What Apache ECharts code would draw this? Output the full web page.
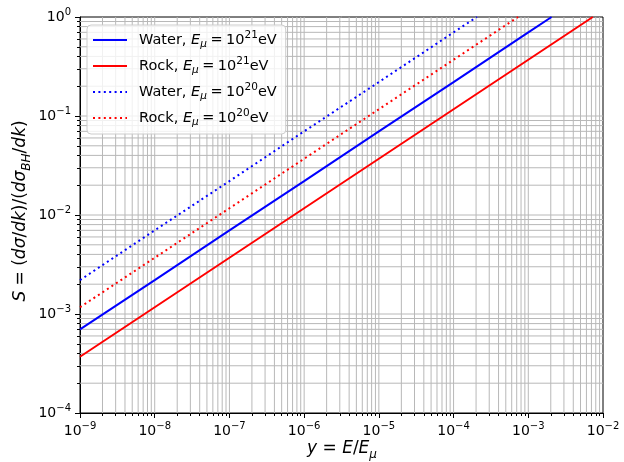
<!DOCTYPE html>
<html>
<head>
<meta charset="utf-8">
<script src="https://cdn.jsdelivr.net/npm/echarts@6.0.0/dist/echarts.min.js"></script>
<style>
  html, body { margin: 0; padding: 0; background: #fff; }
  #chart { width: 624px; height: 462px; }
</style>
</head>
<body>
<div id="chart"></div>
<script>
// Suppression factor S = (dσ/dk)/(dσ_BH/dk) versus fractional photon energy y = E/E_μ
const waterE21 = [[1e-9, 7.0e-4], [1e-8, 2.2e-3], [1e-7, 7.0e-3], [1e-6, 2.2e-2], [1e-5, 7.0e-2], [1e-4, 0.22], [1e-3, 0.70], [2.05e-3, 1.0]];
const rockE21  = [[1e-9, 3.7e-4], [1e-8, 1.17e-3], [1e-7, 3.7e-3], [1e-6, 1.17e-2], [1e-5, 3.7e-2], [1e-4, 0.117], [1e-3, 0.37], [7.3e-3, 1.0]];
const waterE20 = [[1e-9, 2.2e-3], [1e-8, 7.0e-3], [1e-7, 2.2e-2], [1e-6, 7.0e-2], [1e-5, 0.22], [1e-4, 0.70], [2.05e-4, 1.0]];
const rockE20  = [[1e-9, 1.17e-3], [1e-8, 3.7e-3], [1e-7, 1.17e-2], [1e-6, 3.7e-2], [1e-5, 0.117], [1e-4, 0.37], [7.3e-4, 1.0]];

const seriesMedium = ['Water', 'Rock', 'Water', 'Rock'];
const seriesEnergyExp = ['21', '21', '20', '20'];

// Decade ticks on both axes
const xDecades = [1e-9, 1e-8, 1e-7, 1e-6, 1e-5, 1e-4, 1e-3, 1e-2];
const yDecades = [1e-4, 1e-3, 1e-2, 1e-1, 1e0];

const FONT = 'DejaVu Sans';
const X_MIN = xDecades[0], X_MAX = xDecades[xDecades.length - 1];
const Y_MIN = yDecades[0], Y_MAX = yDecades[yDecades.length - 1];

function minorValues(decades) {
  const out = [];
  for (let i = 0; i < decades.length - 1; i++) {
    for (let m = 2; m <= 9; m++) out.push(m * decades[i]);
  }
  return out;
}
const xMinor = minorValues(xDecades);
const yMinor = minorValues(yDecades);

function powLabel(v) {
  const e = Math.round(Math.log10(v));
  return '{b|10}{s|' + (e < 0 ? '\u2212' : '') + Math.abs(e) + '}';
}
const tickRich = {
  b: { fontFamily: FONT, fontSize: 14, color: '#000', lineHeight: 20, verticalAlign: 'middle' },
  s: { fontFamily: FONT, fontSize: 10, color: '#000', lineHeight: 10, verticalAlign: 'top' }
};
const nameRich = {
  n: { fontFamily: FONT, fontSize: 17, fill: '#000', lineHeight: 24, verticalAlign: 'middle' },
  i: { fontFamily: FONT, fontSize: 17, fill: '#000', fontStyle: 'italic', lineHeight: 24, verticalAlign: 'middle' },
  sub: { fontFamily: FONT, fontSize: 12, fill: '#000', fontStyle: 'italic', lineHeight: 10, verticalAlign: 'bottom' }
};
const legendRich = {
  g: { width: 7 },
  sp: { width: 3.5 },
  n: { fontFamily: FONT, fontSize: 14.5, color: '#000', lineHeight: 20, verticalAlign: 'middle' },
  i: { fontFamily: FONT, fontSize: 14.5, color: '#000', fontStyle: 'italic', lineHeight: 20, verticalAlign: 'middle' },
  sub: { fontFamily: FONT, fontSize: 10.5, color: '#000', fontStyle: 'italic', lineHeight: 8, verticalAlign: 'bottom' },
  sup: { fontFamily: FONT, fontSize: 10.5, color: '#000', lineHeight: 10, verticalAlign: 'top' }
};

const seriesData = [waterE21, rockE21, waterE20, rockE20];
const seriesColors = ['#0000ff', '#ff0000', '#0000ff', '#ff0000'];
const seriesDash = ['solid', 'solid', [2, 3.4], [2, 3.4]];
const seriesNames = seriesMedium.map((m, k) => m + ' ' + seriesEnergyExp[k]);

// Background grid: a line at every major and minor tick value
const gridStyle = { color: '#b8b8b8', width: 1, type: 'solid' };
const gridSeries = []
  .concat(xDecades.slice(1, -1).concat(xMinor).map(v => [[v, Y_MIN], [v, Y_MAX]]))
  .concat(yDecades.slice(1, -1).concat(yMinor).map(v => [[X_MIN, v], [X_MAX, v]]))
  .map(pts => ({
    type: 'line',
    data: pts,
    symbol: 'none',
    silent: true,
    z: 1,
    lineStyle: gridStyle,
    emphasis: { disabled: true },
    animation: false
  }));

const dataSeries = seriesData.map((d, k) => ({
  name: seriesNames[k],
  type: 'line',
  data: d,
  symbol: 'none',
  z: 5,
  color: seriesColors[k],
  lineStyle: { color: seriesColors[k], width: 2, type: seriesDash[k] },
  emphasis: { disabled: true },
  animation: false
}));

const chart = echarts.init(document.getElementById('chart'), null, { renderer: 'canvas' });
chart.setOption({
  animation: false,
  backgroundColor: '#ffffff',
  grid: {
    left: 80, right: 21, top: 17, bottom: 49,
    show: true, borderColor: '#000', borderWidth: 1, backgroundColor: 'transparent'
  },
  legend: {
    orient: 'vertical',
    left: 87, top: 25,
    itemWidth: 34, itemHeight: 14, itemGap: 6,
    padding: [5, 9, 6, 5],
    backgroundColor: 'rgba(255,255,255,0.8)',
    borderColor: '#cccccc', borderWidth: 1, borderRadius: 4,
    itemStyle: { opacity: 0 },
    data: seriesNames,
    formatter: name => {
      const k = seriesNames.indexOf(name);
      return '{g|}{n|' + seriesMedium[k] + ', }{i|E}{sub|\u03bc}{sp|}{n|=}{sp|}{n|10}{sup|' + seriesEnergyExp[k] + '}{n|eV}';
    },
    textStyle: { rich: legendRich },
    selectedMode: false
  },
  xAxis: [{
    type: 'log', logBase: 10, min: X_MIN, max: X_MAX,
    position: 'bottom',
    axisLine: { show: true, lineStyle: { color: '#000', width: 1 } },
    axisTick: { show: true, inside: false, length: 5, customValues: xDecades, lineStyle: { color: '#000', width: 1 } },
    axisLabel: { show: true, margin: 8, customValues: xDecades, formatter: powLabel, rich: tickRich },
    splitLine: { show: false },
    minorTick: { show: false }
  }, {
    type: 'log', logBase: 10, min: X_MIN, max: X_MAX,
    position: 'bottom', gridIndex: 0,
    axisLine: { show: false },
    axisTick: { show: true, inside: false, length: 3, customValues: xMinor, lineStyle: { color: '#000', width: 1 } },
    axisLabel: { show: false },
    splitLine: { show: false }
  }],
  yAxis: [{
    type: 'log', logBase: 10, min: Y_MIN, max: Y_MAX,
    position: 'left',
    axisLine: { show: true, lineStyle: { color: '#000', width: 1 } },
    axisTick: { show: true, inside: false, length: 5, customValues: yDecades, lineStyle: { color: '#000', width: 1 } },
    axisLabel: { show: true, margin: 9, customValues: yDecades, formatter: powLabel, rich: tickRich },
    splitLine: { show: false },
    minorTick: { show: false }
  }, {
    type: 'log', logBase: 10, min: Y_MIN, max: Y_MAX,
    position: 'left', gridIndex: 0,
    axisLine: { show: false },
    axisTick: { show: true, inside: false, length: 3, customValues: yMinor, lineStyle: { color: '#000', width: 1 } },
    axisLabel: { show: false },
    splitLine: { show: false }
  }],
  graphic: [{
    type: 'text',
    x: 342, y: 449,
    style: {
      text: '{i|y}{n| = }{i|E}{n|/}{i|E}{sub|\u03bc}',
      rich: nameRich,
      align: 'center', verticalAlign: 'middle'
    }
  }, {
    type: 'text',
    x: 21, y: 211,
    rotation: Math.PI / 2,
    style: {
      text: '{i|S}{n| = (}{i|d\u03c3}{n|/}{i|dk}{n|)/(}{i|d\u03c3}{sub|BH}{n|/}{i|dk}{n|)}',
      rich: nameRich,
      align: 'center', verticalAlign: 'middle'
    }
  }],
  series: gridSeries.concat(dataSeries)
});
</script>
</body>
</html>
